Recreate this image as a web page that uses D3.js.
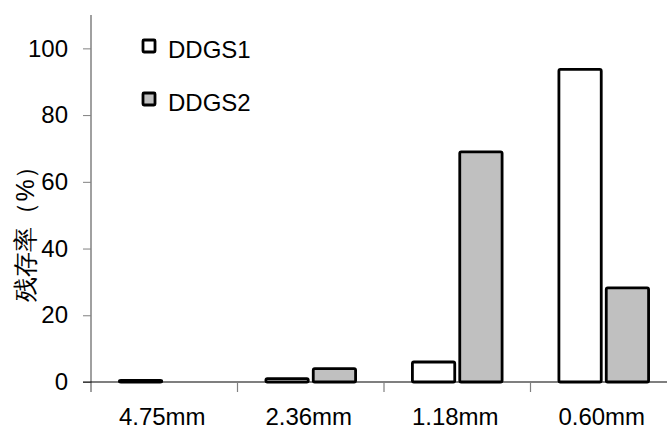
<!DOCTYPE html>
<html>
<head>
<meta charset="utf-8">
<script src="https://cdn.jsdelivr.net/npm/d3@7"></script>
<style>
body { margin: 0; background: #fff; }
text { font-family: "Liberation Sans", Arial, sans-serif; }
</style>
</head>
<body>
<svg id="chart" width="667" height="430"></svg>
<script>
var categories = ["4.75mm", "2.36mm", "1.18mm", "0.60mm"];
var seriesNames = ["DDGS1", "DDGS2"];
var ddgs1 = [0.5, 1, 6, 93.7];
var ddgs2 = [0, 4, 69, 28.2];
var yTicks = [0, 20, 40, 60, 80, 100];
var colors = ["#ffffff", "#c0c0c0"];

var svg = d3.select("#chart");
var plotLeft = 91, plotRight = 677, plotTop = 15, plotBase = 382;

var x = d3.scaleBand().domain(categories).range([plotLeft, plotRight]);
var xs = d3.scaleBand().domain(seriesNames).range([0, x.bandwidth()]).paddingInner(0.106).paddingOuter(0.6);
var y = d3.scaleLinear().domain([0, 110]).range([plotBase, plotTop]);

// y axis
var yAxis = svg.append("g").attr("transform", "translate(" + plotLeft + ",0)")
	.call(d3.axisLeft(y).tickValues(yTicks).tickSize(8).tickPadding(15));
yAxis.select(".domain").remove();
yAxis.selectAll(".tick line").attr("stroke", "#808080");
yAxis.selectAll(".tick text").attr("font-size", 24).attr("fill", "#000")
	.attr("font-family", "Liberation Sans, Arial, sans-serif");
svg.append("line")
	.attr("x1", plotLeft).attr("x2", plotLeft)
	.attr("y1", plotTop).attr("y2", plotBase + 10)
	.attr("stroke", "#808080").attr("stroke-width", 1.5);

// x axis
svg.append("line")
	.attr("x1", plotLeft - 8).attr("x2", 667)
	.attr("y1", plotBase).attr("y2", plotBase)
	.attr("stroke", "#000").attr("stroke-width", 1.2);
svg.selectAll(".xtick").data(categories.slice(1))
	.enter().append("line")
	.attr("x1", function(d){ return x(d); })
	.attr("x2", function(d){ return x(d); })
	.attr("y1", plotBase).attr("y2", plotBase + 10)
	.attr("stroke", "#808080").attr("stroke-width", 1.2);
svg.selectAll(".xlabel").data(categories)
	.enter().append("text")
	.attr("x", function(d){ return x(d) + x.bandwidth() / 2 - 2; })
	.attr("y", 425)
	.attr("text-anchor", "middle")
	.attr("font-size", 24)
	.text(function(d){ return d; });

// bars
var series = [ddgs1, ddgs2];
series.forEach(function(vals, si) {
	svg.append("g").selectAll("rect")
		.data(vals.map(function(v, i){ return {c: categories[i], v: v}; }).filter(function(d){ return d.v > 0; }))
		.enter().append("rect")
		.attr("x", function(d){ return x(d.c) + xs(seriesNames[si]); })
		.attr("y", function(d){ return y(d.v); })
		.attr("width", xs.bandwidth())
		.attr("height", function(d){ return plotBase - y(d.v); })
		.attr("rx", 1.5)
		.attr("fill", colors[si])
		.attr("stroke", "#000")
		.attr("stroke-width", 2.8);
});

// y label
svg.append("text")
	.attr("transform", "translate(34,228) rotate(-90)")
	.attr("text-anchor", "middle")
	.attr("font-size", 25)
	.attr("font-weight", 500)
	.attr("font-family", "Noto Sans CJK JP")
	.text("残存率（%）");

// legend
var legend = svg.append("g");
seriesNames.forEach(function(name, i) {
	legend.append("rect")
		.attr("x", 143).attr("y", 40 + i * 53)
		.attr("width", 12).attr("height", 12)
		.attr("rx", 1)
		.attr("fill", colors[i]).attr("stroke", "#000").attr("stroke-width", 2.8);
	legend.append("text")
		.attr("x", 168).attr("y", 58 + i * 53)
		.attr("font-size", 24)
		.text(name);
});
</script>
</body>
</html>
